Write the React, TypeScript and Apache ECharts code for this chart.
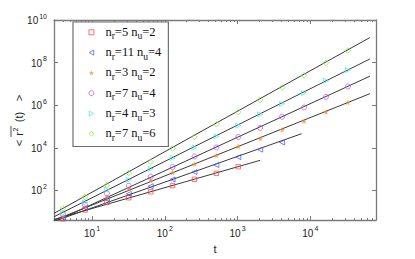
import React, { useEffect, useRef } from 'react';
import * as echarts from 'echarts';

// time steps
const T = [4, 8, 16, 32, 64, 128, 256, 512, 1024, 2048, 4096, 8192, 16384, 32768];

// series values <r^2(t)>
const redY = [4.6, 12, 27.5, 45, 85.5, 168, 330, 630, 1290];
const blueY = [5.1, 14.8, 38, 68, 156, 324, 720, 1540, 3640, 8100, 17700];
const orangeY = [5.9, 17, 51, 120, 292, 684, 1710, 4350, 11400, 27400, 69700, 177000, 481000, 1.32e6];
const purpleY = [7.3, 21, 72, 165, 442, 1250, 3920, 10300, 32300, 85700, 286000, 784000, 2.46e6, 7.5e6];
const cyanY = [8.5, 26.7, 106, 313, 1010, 3350, 10300, 33700, 109000, 367000, 1.15e6, 3.7e6, 1.39e7, 4.4e7];
const greenY = [14.3, 48, 173, 650, 2170, 9200, 32000, 127000, 467000, 1.75e6, 6.8e6, 2.5e7, 9.6e7, 3.7e8];

// fitted power-law lines (endpoints)
const fitRed = [[3, 4.3], [2048, 2570]];
const fitBlue = [[3, 3.5], [7600, 45700]];
const fitOrange = [[3, 3.9], [66000, 3.47e6]];
const fitPurple = [[3, 3.3], [66000, 2.3e7]];
const fitCyan = [[3, 5.75], [66000, 1.48e8]];
const fitGreen = [[3, 8.3], [66000, 1.5e9]];

// legend parameters
const nrVals = [5, 11, 3, 7, 4, 7];
const nuVals = [2, 4, 2, 4, 3, 6];

// ticks
const xMajor = [10, 100, 1000, 10000];
const xMinor = [4, 5, 6, 7, 8, 9, 20, 30, 40, 50, 60, 70, 80, 90, 200, 300, 400, 500, 600, 700, 800, 900,
  2000, 3000, 4000, 5000, 6000, 7000, 8000, 9000, 20000, 30000, 40000, 50000, 60000, 70000];
const yMajor = [1e2, 1e4, 1e6, 1e8, 1e10];

const colors = ['#ff3b3b', '#3a55ff', '#ff8a1a', '#b548ff', '#45ecdc', '#7ded25'];
const STAR = 'path://M0,-10 L2.35,-3.24 L9.51,-3.09 L3.8,1.24 L5.88,8.09 L0,4 L-5.88,8.09 L-3.8,1.24 L-9.51,-3.09 L-2.35,-3.24 Z';
const TRI_LEFT = 'path://M0,5 L9,0 L9,10 Z';
const TRI_RIGHT = 'path://M9,5 L0,0 L0,10 Z';

const AXIS_COLOR = '#7a7a7a';
const SANS = 'Liberation Sans';
const SERIF = 'Liberation Serif';

function supLabel(v: number) {
  const e = Math.round(Math.log10(v));
  return `{b|10}{s|${e}}`;
}

export default function App() {
  const ref = useRef<HTMLDivElement>(null);
  useEffect(() => {
    document.body.style.margin = '0';
    const chart = echarts.init(ref.current!, null, { renderer: 'svg' });
    const names = nrVals.map((nr, i) => `nr${nr}nu${nuVals[i]}_${i}`);
    const ys = [redY, blueY, orangeY, purpleY, cyanY, greenY];
    const fits = [fitRed, fitBlue, fitOrange, fitPurple, fitCyan, fitGreen];
    const symbols = ['rect', TRI_LEFT, STAR, 'circle', TRI_RIGHT, 'diamond'];
    const sizes = [4.5, 5, 5.5, 5, 5, 5.5];

    const labelRich = {
      b: { fontSize: 10, fontFamily: SANS, color: '#222', verticalAlign: 'bottom', lineHeight: 11 },
      s: { fontSize: 7, fontFamily: SANS, color: '#222', verticalAlign: 'bottom', lineHeight: 8, padding: [0, 0, 6, 1] },
    };

    const baseX = { type: 'log', min: 3, max: 80000, gridIndex: 0, splitLine: { show: false } };
    const baseY = { type: 'log', min: 4, max: 1e10, gridIndex: 0, splitLine: { show: false } };

    const markerStyle = (i: number) => i === 2
      ? { color: colors[i] }
      : { color: 'rgba(255,255,255,0)', borderColor: colors[i], borderWidth: 0.9 };

    const series: any[] = [];
    fits.forEach((f) => {
      series.push({
        type: 'line', data: f, symbol: 'none', silent: true, z: 3,
        lineStyle: { color: '#3a3a3a', width: 1 }, xAxisIndex: 0, yAxisIndex: 0,
      });
    });
    ys.forEach((arr, i) => {
      series.push({
        type: 'scatter', name: names[i], data: arr.map((v, k) => [T[k], v]),
        symbol: symbols[i], symbolSize: sizes[i], z: 4,
        itemStyle: markerStyle(i),
        xAxisIndex: 0, yAxisIndex: 0,
      });
    });

    const legendData = names.map((n, i) => ({
      name: n,
      icon: symbols[i],
      itemStyle: i === 2 ? { color: colors[i] } : { color: '#fff', borderColor: colors[i], borderWidth: 0.9 },
    }));

    chart.setOption({
      animation: false,
      backgroundColor: '#fff',
      grid: { left: 54, top: 20, width: 322, height: 208.5, containLabel: false },
      xAxis: [
        {
          ...baseX, position: 'bottom',
          axisLine: { show: true, lineStyle: { color: AXIS_COLOR, width: 1.3 } },
          axisTick: { show: true, inside: true, length: 4, customValues: xMajor, lineStyle: { color: AXIS_COLOR } },
          axisLabel: { show: true, customValues: xMajor, margin: 7, formatter: (v: number) => supLabel(v), rich: labelRich },
          name: 't', nameLocation: 'middle', nameGap: 22,
          nameTextStyle: { fontFamily: SANS, fontSize: 11, color: '#222' },
        },
        {
          ...baseX, position: 'bottom',
          axisLine: { show: false },
          axisTick: { show: true, inside: true, length: 2, customValues: xMinor, lineStyle: { color: AXIS_COLOR } },
          axisLabel: { show: false },
        },
        {
          ...baseX, position: 'top',
          axisLine: { show: true, lineStyle: { color: AXIS_COLOR, width: 1.3 } },
          axisTick: { show: true, inside: true, length: 4, customValues: xMajor, lineStyle: { color: AXIS_COLOR } },
          axisLabel: { show: false },
        },
        {
          ...baseX, position: 'top',
          axisLine: { show: false },
          axisTick: { show: true, inside: true, length: 2, customValues: xMinor, lineStyle: { color: AXIS_COLOR } },
          axisLabel: { show: false },
        },
      ],
      yAxis: [
        {
          ...baseY, position: 'left',
          axisLine: { show: true, lineStyle: { color: AXIS_COLOR, width: 1.3 } },
          axisTick: { show: true, inside: true, length: 4, customValues: yMajor, lineStyle: { color: AXIS_COLOR } },
          axisLabel: { show: true, customValues: yMajor, margin: 7, formatter: (v: number) => supLabel(v), rich: labelRich },
        },
        {
          ...baseY, position: 'right',
          axisLine: { show: true, lineStyle: { color: AXIS_COLOR, width: 1.3 } },
          axisTick: { show: true, inside: true, length: 4, customValues: yMajor, lineStyle: { color: AXIS_COLOR } },
          axisLabel: { show: false },
        },
      ],
      legend: {
        show: true,
        orient: 'vertical',
        left: 73, top: 22,
        padding: [3.3, 7, 3.7, 15.5],
        itemWidth: 5, itemHeight: 5,
        itemGap: 4.3,
        backgroundColor: '#fff',
        borderColor: '#6f6f6f', borderWidth: 1.2,
        data: legendData,
        formatter: (name: string) => {
          const i = names.indexOf(name);
          return `{g|}{n|n}{s|r}{n|=${nrVals[i]} n}{s|u}{n|=${nuVals[i]}}`;
        },
        textStyle: {
          rich: {
            g: { width: 6.5, lineHeight: 14 },
            n: { fontSize: 12.5, fontFamily: SERIF, color: '#111', verticalAlign: 'top', lineHeight: 14 },
            s: { fontSize: 9.5, fontFamily: SERIF, color: '#111', verticalAlign: 'top', lineHeight: 10, padding: [6, 0, 0, 0] },
          },
        },
      },
      graphic: [
        {
          type: 'group', x: 19, y: 121, rotation: Math.PI / 2,
          children: [
            { type: 'text', x: -22, y: 0, style: { text: '<', font: `11px ${SANS}`, fill: '#222', align: 'center', verticalAlign: 'middle' } },
            { type: 'text', x: -13, y: 0, style: { text: 'r', font: `11px ${SANS}`, fill: '#222', align: 'center', verticalAlign: 'middle' } },
            { type: 'text', x: -8.5, y: -3.5, style: { text: '2', font: `7px ${SANS}`, fill: '#222', align: 'center', verticalAlign: 'middle' } },
            { type: 'line', shape: { x1: -16, y1: -8, x2: -5, y2: -8 }, style: { stroke: '#222', lineWidth: 0.8 } },
            { type: 'text', x: 4, y: 0, style: { text: '(t)', font: `11px ${SANS}`, fill: '#222', align: 'center', verticalAlign: 'middle' } },
            { type: 'text', x: 23, y: 0, style: { text: '>', font: `11px ${SANS}`, fill: '#222', align: 'center', verticalAlign: 'middle' } },
          ],
        },
      ],
      series,
    });
    return () => chart.dispose();
  }, []);
  return <div ref={ref} style={{ width: 415, height: 259 }} />;
}
